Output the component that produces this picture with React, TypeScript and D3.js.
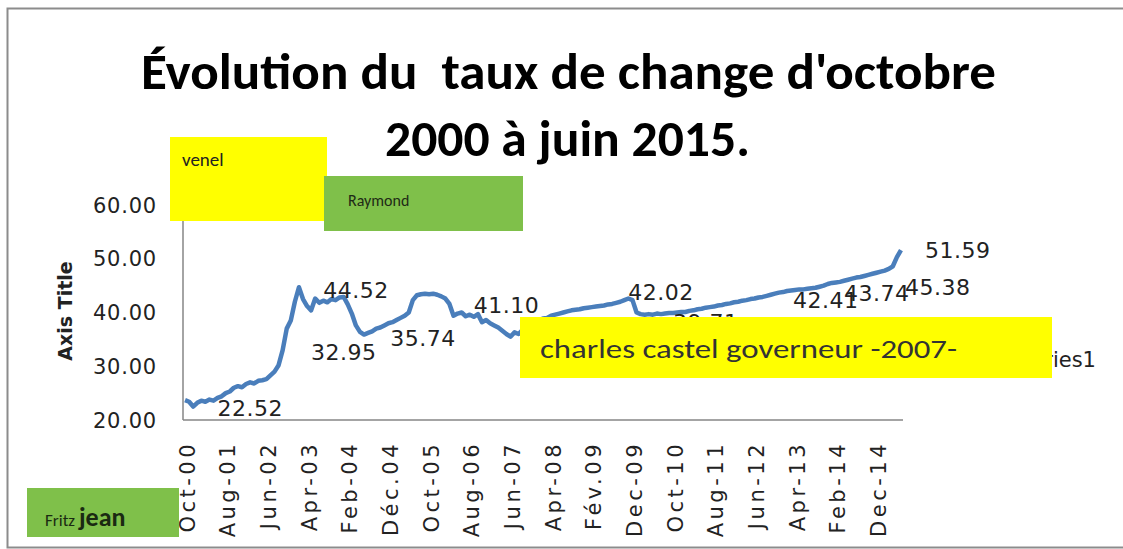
import React from "react";
import * as d3 from "d3";

// Monthly exchange rate, Oct 2000 .. Jun 2015 (177 months)
const rates: number[] = [
  23.7, 23.4, 22.5, 23.2, 23.6, 23.4, 23.8, 23.6, 24.1, 24.4,
  25.0, 25.3, 26.0, 26.3, 26.1, 26.7, 27.0, 26.8, 27.3, 27.4,
  27.6, 28.3, 29.0, 30.2, 33.0, 37.0, 38.5, 42.0, 44.7, 42.5,
  41.2, 40.4, 42.6, 41.8, 42.2, 41.9, 42.5, 42.3, 42.8, 42.9,
  41.5, 39.8, 37.6, 36.4, 35.9, 36.2, 36.5, 37.0, 37.2, 37.6,
  38.0, 38.2, 38.6, 39.0, 39.4, 40.0, 42.3, 43.2, 43.4, 43.5,
  43.4, 43.5, 43.3, 43.0, 42.6, 41.6, 39.4, 39.8, 40.0, 39.3,
  39.6, 39.2, 39.7, 38.2, 38.6, 38.0, 37.6, 37.2, 36.6, 36.0,
  35.5, 36.3, 36.0, 36.8, 37.4, 37.8, 38.2, 38.5, 38.9, 39.0,
  39.4, 39.6, 39.8, 40.0, 40.2, 40.4, 40.5, 40.6, 40.8, 40.9,
  41.0, 41.1, 41.2, 41.3, 41.5, 41.6, 41.8, 42.0, 42.3, 42.6,
  42.3, 40.0, 39.7, 39.6, 39.7, 39.6, 39.8, 39.7, 39.8, 39.9,
  39.9, 40.0, 40.1, 40.1, 40.3, 40.4, 40.6, 40.7, 40.9, 41.0,
  41.1, 41.3, 41.4, 41.6, 41.7, 41.9, 42.0, 42.2, 42.3, 42.5,
  42.6, 42.8, 42.9, 43.1, 43.3, 43.5, 43.7, 43.8, 44.0, 44.1,
  44.2, 44.3, 44.3, 44.4, 44.5, 44.6, 44.8, 45.0, 45.3, 45.5,
  45.6, 45.7, 45.9, 46.1, 46.3, 46.5, 46.6, 46.8, 47.0, 47.2,
  47.4, 47.6, 47.8, 48.1, 48.6, 50.3, 51.59,
];

// category labels shown every 10 months
const xTickLabels: string[] = [
  "Oct-00", "Aug-01", "Jun-02", "Apr-03", "Feb-04", "Déc.04", "Oct-05", "Aug-06", "Jun-07",
  "Apr-08", "Fév.09", "Dec-09", "Oct-10", "Aug-11", "Jun-12", "Apr-13", "Feb-14", "Dec-14",
];
const xTickStep = 10;

const yTicks: number[] = [20, 30, 40, 50, 60];

// data labels: point index and value shown
const labelIdx: number[] = [7, 33, 30, 49, 70, 108, 119, 148, 161, 175, 176];
const labelVal: number[] = [22.52, 44.52, 32.95, 35.74, 41.1, 42.02, 39.71, 42.41, 43.74, 45.38, 51.59];
// offsets (dx, dy) of each label from its anchor
const labelDx: number[] = [4, 4, 4, 6, 4, 4, 4, 6, 4, 8, 24];
const labelDy: number[] = [2, 2, 2, 3, -2, -10, 8, 1, 1, 3, 0];

const titleLines: string[] = ["Évolution du\u00a0 taux de change d'octobre", "2000 à juin 2015."];
const seriesName = "Series1";
const axisTitle = "Axis Title";

export default function App() {
  const W = 1123, H = 549;
  const left = 183, right = 903, top = 205, bottom = 420;
  const idx = d3.range(rates.length);
  const xb = d3.scaleBand<number>().domain(idx).range([left, right]).padding(0);
  const x = (i: number) => (xb(i) as number) + xb.bandwidth() / 2;
  const y = d3.scaleLinear().domain([20, 60]).range([bottom, top]);
  const line = d3.line<number>().x((_, i) => x(i)).y((d) => y(d)).curve(d3.curveLinear);
  const fmt = d3.format(".2f");
  const fontData = "'DejaVu Sans', Verdana, sans-serif";
  const fontTitle = "Carlito, 'Liberation Sans Narrow', Lato, sans-serif";
  const lineColor = "#4a7ebb";

  return (
    <svg width={W} height={H} style={{ position: "absolute", left: 0, top: 0, background: "#fff" }}>
      <rect x={7.5} y={8.5} width={1130} height={539} fill="#fff" stroke="#8c8c8c" strokeWidth={2} />

      {/* title */}
      <text x={141} y={89} fontFamily={fontTitle} fontWeight="bold" fontSize={51} fill="#000"
        textLength={855} lengthAdjust="spacingAndGlyphs">{titleLines[0]}</text>
      <text x={385} y={156} fontFamily={fontTitle} fontWeight="bold" fontSize={51} fill="#000"
        textLength={365} lengthAdjust="spacingAndGlyphs">{titleLines[1]}</text>

      {/* axes */}
      <line x1={left} x2={left} y1={top} y2={bottom} stroke="#868686" strokeWidth={1.5} />
      <line x1={left} x2={right} y1={bottom} y2={bottom} stroke="#868686" strokeWidth={1.5} />
      {yTicks.map((t) => (
        <text key={t} x={157} y={y(t)} dy="0.36em" textAnchor="end" fontFamily={fontData}
          fontSize={21} fill="#222" letterSpacing={0.8}>{fmt(t)}</text>
      ))}
      {xTickLabels.map((lab, k) => {
        const px = x(k * xTickStep) + 2;
        return (
          <text key={lab} transform={`translate(${px},441) rotate(-90)`} textAnchor="end" dy="0.36em"
            fontFamily={fontData} fontSize={21} fill="#222" letterSpacing={3.5}>{lab}</text>
        );
      })}
      <text transform="translate(65,311) rotate(-90)" textAnchor="middle" dy="0.36em"
        fontFamily={fontData} fontWeight="bold" fontSize={19} fill="#222">{axisTitle}</text>

      {/* series */}
      <path d={line(rates) || ""} fill="none" stroke={lineColor} strokeWidth={4.5} strokeLinejoin="round" />

      {/* data labels */}
      {labelIdx.map((li, k) => (
        <text key={k} x={x(li) + labelDx[k]} y={y(labelVal[k]) + labelDy[k]} dy="0.36em"
          fontFamily={fontData} fontSize={22} fill="#222" letterSpacing={0.5}>{fmt(labelVal[k])}</text>
      ))}

      {/* legend */}
      <line x1={980} x2={1010} y1={357} y2={357} stroke={lineColor} strokeWidth={4} />
      <text x={1018} y={359} dy="0.36em" fontFamily={fontData} fontSize={21} fill="#222">{seriesName}</text>

      {/* annotation boxes */}
      <rect x={170} y={137} width={157} height={84} fill="#ffff00" />
      <text x={182} y={166} fontFamily={fontTitle} fontSize={19} fill="#222">venel</text>
      <rect x={324} y={176} width={199} height={55} fill="#7fc04a" />
      <text x={348} y={206} fontFamily={fontTitle} fontSize={16} fill="#1e2a16">Raymond</text>
      <rect x={520} y={317} width={532} height={61} fill="#ffff00" />
      <text x={540} y={358} fontFamily={fontTitle} fontSize={27} fill="#333"
        textLength={417} lengthAdjust="spacingAndGlyphs">charles castel governeur -2007-</text>
      <rect x={27} y={488} width={152} height={49} fill="#7fc04a" />
      <text x={45} y={526} fontFamily={fontTitle} fill="#1a2a12">
        <tspan fontSize={17}>Fritz </tspan>
        <tspan fontSize={26} fontWeight="bold">jean</tspan>
      </text>
    </svg>
  );
}
